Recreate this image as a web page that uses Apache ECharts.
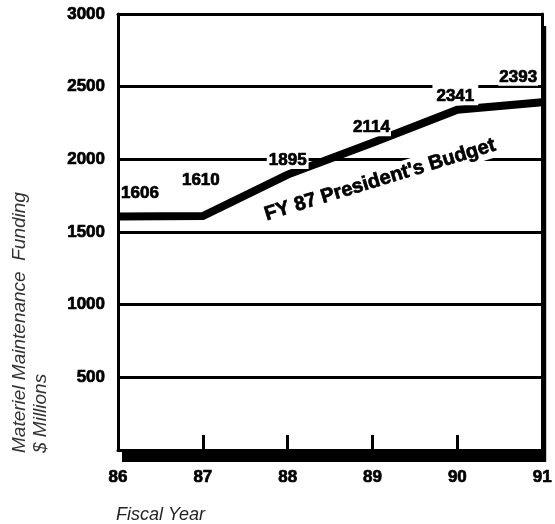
<!DOCTYPE html>
<html>
<head>
<meta charset="utf-8">
<script src="https://cdn.jsdelivr.net/npm/echarts@6/dist/echarts.min.js"></script>
<style>
html,body{margin:0;padding:0;background:#fff;}
#chart{width:555px;height:524px;}
</style>
</head>
<body>
<div id="chart"></div>
<script>
// ---- data ----
const years = [86, 87, 88, 89, 90, 91];
const funding = [1606, 1610, 1895, 2114, 2341, 2393];
const yTitle1 = 'Materiel Maintenance  Funding';
const yTitle2 = '$ Millions';
const xTitle = 'Fiscal Year';
const budgetLabel = "FY 87 President's Budget";

// ---- label placement (style only) ----
const labelOffsets = [[22, -14], [-2, -27], [0, -5], [-1, -6], [-2, -4], [-24, -16]];
const labelPads = [[0, 1], [0, 1], [0, 2], [0, 1], [4, 4, 0, 4], [0, 1]];

const FONT = 'Liberation Sans, Arial, Helvetica, sans-serif';
const HEAVY = {textBorderColor: '#000', textBorderWidth: 0.7};

const chart = echarts.init(document.getElementById('chart'), null, {renderer: 'canvas'});

const seriesData = years.map((y, i) => ({
  value: [y, funding[i]],
  label: {offset: labelOffsets[i], padding: labelPads[i]}
}));

const frameAxis = {
  axisLine: {show: true, onZero: false, lineStyle: {color: '#000', width: 3}},
  axisTick: {show: false},
  axisLabel: {show: false},
  splitLine: {show: false}
};

chart.setOption({
  animation: false,
  backgroundColor: '#fff',
  grid: {
    left: 118, right: 6, top: 14, bottom: 74,
    show: true,
    backgroundColor: '#fff',
    borderWidth: 0,
    borderColor: 'transparent',
    shadowColor: '#000',
    shadowBlur: 0.01,
    shadowOffsetX: 4,
    shadowOffsetY: 12
  },
  xAxis: [{
    type: 'value', min: 86, max: 91, interval: 1, position: 'bottom',
    axisLine: {show: true, onZero: false, lineStyle: {color: '#000', width: 3}},
    axisTick: {show: true, inside: true, length: 15, lineStyle: {color: '#000', width: 3}},
    splitLine: {show: false},
    axisLabel: Object.assign({color: '#000', fontFamily: FONT, fontWeight: 'bold', fontSize: 17, margin: 19}, HEAVY)
  }, Object.assign({type: 'value', min: 86, max: 91, interval: 1, position: 'top'}, frameAxis)],
  yAxis: [{
    type: 'value', min: 0, max: 3000, interval: 500, position: 'left',
    axisLine: {show: true, onZero: false, lineStyle: {color: '#000', width: 3}},
    axisTick: {show: false},
    splitLine: {show: true, lineStyle: {color: '#000', width: 3}},
    axisLabel: Object.assign({
      color: '#000', fontFamily: FONT, fontWeight: 'bold', fontSize: 17, margin: 13,
      formatter: v => (v === 0 ? '' : String(v))
    }, HEAVY)
  }, Object.assign({type: 'value', min: 0, max: 3000, interval: 500, position: 'right'}, frameAxis)],
  series: [{
    type: 'line',
    xAxisIndex: 0, yAxisIndex: 0,
    data: seriesData,
    showSymbol: true,
    symbol: 'circle',
    symbolSize: 1,
    itemStyle: {color: '#000'},
    lineStyle: {color: '#000', width: 8, cap: 'butt', join: 'miter'},
    label: Object.assign({
      show: true, position: 'top', distance: 0,
      color: '#000', fontFamily: FONT, fontWeight: 'bold', fontSize: 17,
      backgroundColor: '#fff',
      formatter: p => String(p.value[1])
    }, HEAVY),
    z: 5
  }],
  graphic: [
    {
      type: 'text', x: 380, y: 180, rotation: 17 * Math.PI / 180, z: 3,
      style: {
        text: budgetLabel, fill: '#000',
        font: 'bold 20px ' + FONT,
        stroke: '#000', lineWidth: 0.7,
        textAlign: 'center', textVerticalAlign: 'middle',
        backgroundColor: '#fff', padding: [2, 4]
      }
    },
    {
      type: 'text', x: 9, y: 453, rotation: Math.PI / 2,
      style: {
        text: yTitle1 + '\n' + yTitle2, fill: '#333',
        font: 'italic 19px ' + FONT,
        lineHeight: 21,
        textAlign: 'left', textVerticalAlign: 'top'
      }
    },
    {
      type: 'text', x: 116, y: 515,
      style: {
        text: xTitle, fill: '#222',
        font: 'italic 18px ' + FONT,
        textAlign: 'left', textVerticalAlign: 'middle'
      }
    }
  ]
});
</script>
</body>
</html>
